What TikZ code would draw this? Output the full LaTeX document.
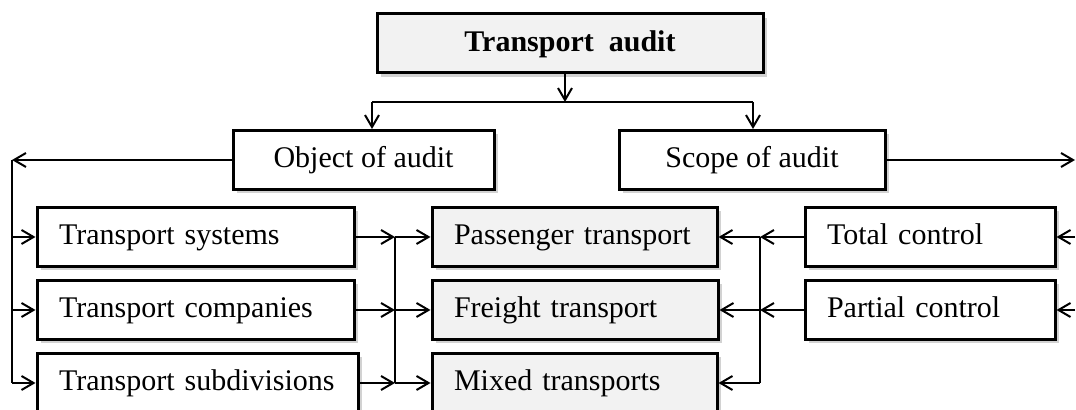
\documentclass[tikz,border=0pt]{standalone}
\usepackage{fontspec}
\setmainfont{Liberation Serif}
\usetikzlibrary{arrows.meta,shadows,calc}
\definecolor{boxgray}{HTML}{F2F2F2}

\begin{document}
\begin{tikzpicture}
[x=0.5pt,y=-0.5pt,>={Straight Barb[length=6pt,width=7pt]},
line width=1pt,font=\fontsize{15}{18}\selectfont,
box/.style={draw,line width=1.5pt,fill=white,minimum height=29.5pt,inner ysep=0pt,
text height=11pt,text depth=3pt,
drop shadow={shadow xshift=2pt,shadow yshift=-2pt,opacity=0.25,fill=black!70}},
gbox/.style={box,fill=boxgray},
lbox/.style={box,inner xsep=11pt,text width=#1,align=left}]
\useasboundingbox (0,0) rectangle (1076,410);

\node (audit) at (570,43.5) [gbox,minimum width=193pt,font=\fontsize{15}{18}\selectfont\bfseries] {Transport~~audit};
\node (object) at (363.5,160) [box,minimum width=130.5pt] {Object of audit};
\node (scope) at (752,160) [box,minimum width=133pt] {Scope of audit};

\node (sys) at (195.5,237) [lbox=136.5pt] {Transport systems};
\node (comp) at (195.5,310) [lbox=136.5pt] {Transport companies};
\node (subd) at (197.5,383) [lbox=138.5pt] {Transport subdivisions};

\node (pass) at (574.5,237) [lbox=120.5pt,fill=boxgray] {Passenger transport};
\node (freight) at (575,310) [lbox=121pt,fill=boxgray] {Freight transport};
\node (mixed) at (574.5,383) [lbox=120.5pt,fill=boxgray] {Mixed transports};

\node (total) at (930,237) [lbox=103pt] {Total control};
\node (partial) at (930,310) [lbox=103pt] {Partial control};

% top branching
\coordinate (top) at (565,102);
\coordinate (topl) at (372,102);
\coordinate (topr) at (753,102);
\draw[->] (audit.south -| top) -- (top);
\draw (topl) -- (topr);
\draw[->] (topl) -- (object.north -| topl);
\draw[->] (topr) -- (scope.north -| topr);

% object side
\coordinate (lft) at (12,160);
\draw[->] (object.west) -- (lft);
\draw (lft) -- (lft |- subd);
\foreach \n in {sys,comp,subd}
  \draw[->] (lft |- \n) -- (\n.west);

\coordinate (jl) at (395,237);
\draw (jl) -- (jl |- mixed);
\foreach \a/\b in {sys/pass,comp/freight,subd/mixed}{
  \draw[->] (\a.east) -- (jl |- \a);
  \draw[->] (jl |- \b) -- (\b.west);
}

% scope side
\coordinate (jr) at (760,237);
\draw (jr) -- (jr |- mixed);
\foreach \n in {total,partial}
  \draw[->] (\n.west) -- (jr |- \n);
\foreach \n in {pass,freight,mixed}
  \draw[->] (jr |- \n) -- (\n.east);

\coordinate (rgt) at (1075,160);
\draw[->] (scope.east) -- (rgt);
\foreach \n in {total,partial}
  \draw[->] (rgt |- \n) -- (\n.east);

\end{tikzpicture}
\end{document}
